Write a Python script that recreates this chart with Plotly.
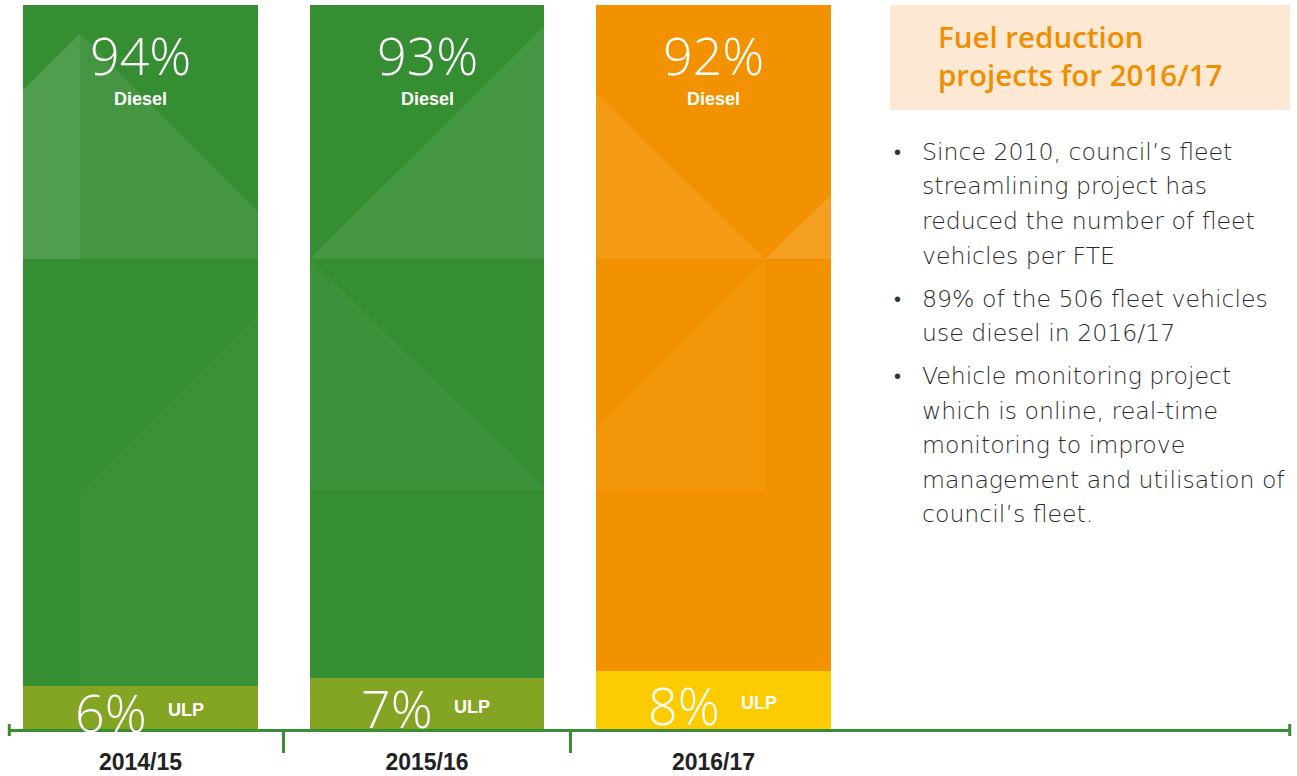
import plotly.graph_objects as go

# ---- data ----
years = ["2014/15", "2015/16", "2016/17"]
diesel_pct = [94, 93, 92]
ulp_pct = [6, 7, 8]
diesel_colors = ["#358E32", "#358E32", "#F39200"]
ulp_colors = ["#84A524", "#84A524", "#FCCB00"]

title_lines = ["Fuel reduction", "projects for 2016/17"]
bullets = [
    ["Since 2010, council\u2019s fleet", "streamlining project has",
     "reduced the number of fleet", "vehicles per FTE"],
    ["89% of the 506 fleet vehicles", "use diesel in 2016/17"],
    ["Vehicle monitoring project", "which is online, real-time",
     "monitoring to improve", "management and utilisation of",
     "council\u2019s fleet."],
]

W, H = 1297, 776
L, R, T, B = 8, 6, 5, 47
PW, PH = W - L - R, H - T - B
BAR_W = 0.82
X0 = -0.4625
X1 = X0 + PW / 286.5
AXIS_GREEN = "#3A8D35"


def xp(px):
    return (px - L) / PW


def yp(py):
    return 1 - (py - T) / PH


fig = go.Figure()
x_idx = list(range(len(years)))
fig.add_trace(go.Bar(x=x_idx, y=ulp_pct, marker=dict(color=ulp_colors, line=dict(width=0)),
                     width=BAR_W, name="ULP", hoverinfo="skip"))
fig.add_trace(go.Bar(x=x_idx, y=diesel_pct, marker=dict(color=diesel_colors, line=dict(width=0)),
                     width=BAR_W, name="Diesel", hoverinfo="skip"))

shapes = []
annotations = []

# decorative faceted triangles (relative to each bar: fx 0..1 across bar, y in % units, alpha)
decor = [
    [([(0.243, 96.1), (1.0, 71.5), (1.0, 64.9), (0.0, 64.9), (0.0, 88.3)], 0.08),
     ([(0.0, 88.3), (0.243, 96.1), (0.243, 64.9), (0.0, 64.9)], 0.07),
     ([(0.243, 32.9), (1.0, 57.5), (1.0, 5.9), (0.243, 5.9)], 0.03)],
    [([(0.0, 64.9), (1.0, 97.2), (1.0, 64.9)], 0.08),
     ([(0.0, 64.9), (0.0, 33.0), (1.0, 33.0), (1.0, 33.5)], 0.04)],
    [([(0.0, 87.8), (0.72, 64.9), (0.0, 64.9)], 0.08),
     ([(0.72, 64.9), (1.0, 73.8), (1.0, 64.9)], 0.12),
     ([(0.72, 64.9), (0.0, 41.5), (0.0, 33.0), (0.72, 33.0)], 0.04)],
]
for i, polys in enumerate(decor):
    left = i - BAR_W / 2
    for poly, alpha in polys:
        pts = [(left + fx * BAR_W, yy) for fx, yy in poly]
        path = "M " + " L ".join(f"{px},{py}" for px, py in pts) + " Z"
        shapes.append(dict(type="path", path=path, xref="x", yref="y",
                           fillcolor=f"rgba(255,255,255,{alpha})", line=dict(width=0), layer="above"))

# axis end caps (at the ends of the axis domain)
for xv in (0.001, 0.999):
    shapes.append(dict(type="line", xref="paper", yref="paper", x0=xv, x1=xv, y0=-7, y1=5,
                       ysizemode="pixel", yanchor=0, line=dict(color=AXIS_GREEN, width=3)))

# bar labels
for i in x_idx:
    total = diesel_pct[i] + ulp_pct[i]
    annotations.append(dict(x=i, y=total, xref="x", yref="y", yanchor="top", yshift=-12,
                            text=f"{diesel_pct[i]}%", showarrow=False,
                            font=dict(family="Open Sans", weight=300, size=52, color="white")))
    annotations.append(dict(x=i, y=total, xref="x", yref="y", yanchor="top", yshift=-82,
                            text="<b>Diesel</b>", showarrow=False,
                            font=dict(family="Liberation Sans, Arial", size=18, color="white")))
    annotations.append(dict(x=i, y=ulp_pct[i] / 2, xref="x", yref="y", yanchor="middle",
                            xshift=-30, yshift=-4,
                            text=f"{ulp_pct[i]}%", showarrow=False,
                            font=dict(family="Open Sans", weight=300, size=52, color="white")))
    annotations.append(dict(x=i, y=ulp_pct[i] / 2, xref="x", yref="y", yanchor="middle",
                            xshift=45, yshift=-3,
                            text="<b>ULP</b>", showarrow=False,
                            font=dict(family="Liberation Sans, Arial", size=18, color="white")))

# right panel: title box
shapes.append(dict(type="rect", xref="paper", yref="paper",
                   x0=xp(890), x1=xp(1290), y0=yp(110), y1=yp(5),
                   fillcolor="#FDE9D3", line=dict(width=0), layer="below"))
annotations.append(dict(x=xp(936), y=yp(56), xref="paper", yref="paper",
                        xanchor="left", yanchor="middle", align="left",
                        text="<br>".join(title_lines), showarrow=False,
                        font=dict(family="Open Sans", weight=600, size=29.5, color="#F18E00")))

# bullet list
yc = 152
for p, para in enumerate(bullets):
    for li, line in enumerate(para):
        if li == 0:
            annotations.append(dict(x=xp(897), y=yp(yc), xref="paper", yref="paper",
                                    xanchor="center", yanchor="middle", text="\u2022",
                                    showarrow=False,
                                    font=dict(family="Liberation Sans, Arial", size=20, color="#333333")))
        annotations.append(dict(x=xp(920), y=yp(yc), xref="paper", yref="paper",
                                xanchor="left", yanchor="middle", text=line, showarrow=False,
                                font=dict(family="DejaVu Sans", weight=200, size=23.6, color="#2b2b2b")))
        yc += 34.5
    yc += 43 - 34.5

fig.update_layout(
    width=W, height=H,
    margin=dict(l=L, r=R, t=T, b=B, autoexpand=False),
    paper_bgcolor="white", plot_bgcolor="white",
    barmode="stack", bargap=0, showlegend=False,
    xaxis=dict(range=[X0, X1], tickvals=x_idx, ticktext=years, ticks="",
               minor=dict(tickvals=[k + 0.5 for k in range(len(years) - 1)], ticks="outside",
                          ticklen=21, tickwidth=3, tickcolor=AXIS_GREEN, showgrid=False),
               showgrid=False, zeroline=False, showline=True, linecolor=AXIS_GREEN, linewidth=3,
               tickfont=dict(family="Liberation Sans, Arial", size=23, color="#222222", weight="bold"),
               ticklabelstandoff=10, automargin=False, fixedrange=True),
    yaxis=dict(range=[0, 100], visible=False, fixedrange=True, automargin=False),
    shapes=shapes, annotations=annotations,
)

fig.write_html("out.html", config={"displayModeBar": False},
               post_script="document.body.style.margin='0';")
